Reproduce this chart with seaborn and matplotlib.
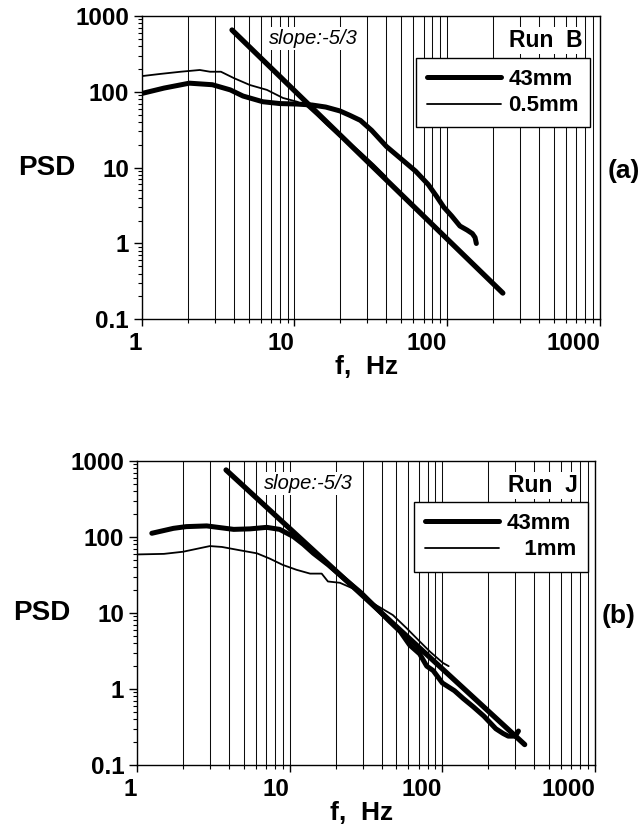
import numpy as np
import pandas as pd
import matplotlib
matplotlib.use('Agg')
import matplotlib.pyplot as plt
import seaborn as sns

# panel (a), Run B
a_slope_f = [3.9, 231]
a_slope_psd = [653, 0.222]
a_43_f = [1.0, 1.4, 2.05, 2.9, 3.8, 4.6, 6.2, 8.0, 10.3, 13, 16, 19.8, 23, 27,
          32, 40, 50, 62, 75, 85, 95, 107, 121, 135, 146, 152, 155]
a_43_psd = [95, 112, 130, 124, 106, 88, 74, 70, 69, 67, 63, 56, 49, 42,
            31, 19, 13, 9, 6, 4.2, 3.0, 2.3, 1.7, 1.5, 1.35, 1.2, 1.0]
a_05_f = [1.0, 1.32, 1.8, 2.4, 2.8, 3.3, 4.0, 5.1, 6.6, 8.4, 10.4, 12.1, 14,
          16.3, 19.8, 23, 27, 33, 40]
a_05_psd = [161, 172, 184, 194, 184, 184, 152, 123, 106, 83, 74, 64, 49,
            36.5, 25.6, 21, 16, 11, 7.5]

# panel (b), Run J
b_slope_f = [3.83, 346]
b_slope_psd = [762, 0.186]
b_43_f = [1.25, 1.73, 2.1, 2.86, 4.3, 5.5, 7.07, 8.6, 10.6, 12.3, 14.3, 17.9,
          22, 29.3, 38, 45, 53, 61, 71, 79, 87, 100, 120, 137, 160, 187, 224,
          250, 270, 300, 315]
b_43_psd = [112, 130, 137, 140, 126, 128, 134, 126, 101, 80, 61, 43,
            30, 18.5, 11, 7.8, 5.7, 3.8, 2.9, 2.0, 1.75, 1.2, 0.95, 0.75, 0.58,
            0.44, 0.3, 0.26, 0.24, 0.24, 0.28]
b_1_f = [1.0, 1.5, 2.0, 3.0, 3.6, 4.7, 6.1, 7.4, 9.0, 11.1, 13.6, 16.2, 17.8,
         21.3, 26, 30.2, 35.2, 47.4, 58.4, 71.3, 83, 101, 110]
b_1_psd = [59, 60, 64, 76, 74, 67, 61, 52, 43, 37, 33, 33, 26, 25, 21, 16.4,
           13.4, 9.4, 6.3, 4.2, 3.1, 2.2, 2.0]

x_ticks = [1, 10, 100, 1000]
x_labels = ['1', '10', '100', '1000']
y_ticks = [0.1, 1, 10, 100, 1000]
y_labels = ['0.1', '1', '10', '100', '1000']

sns.set_theme(style='ticks', rc={'axes.edgecolor': 'black',
                                 'xtick.color': 'black',
                                 'ytick.color': 'black',
                                 'text.color': 'black',
                                 'axes.labelcolor': 'black'})
plt.rcParams['font.family'] = ['Liberation Sans', 'DejaVu Sans']
plt.rcParams['font.weight'] = 'bold'
plt.rcParams['axes.labelweight'] = 'bold'


def panel(ax, slope, thick, thin, thin_label, run, tag, leg_anchor):
    ax.set_xscale('log')
    ax.set_yscale('log')
    ax.set_xlim(1, 1000)
    ax.set_ylim(0.1, 1000)

    sns.lineplot(x=thin[0], y=thin[1], ax=ax, color='black', lw=1.3,
                 sort=False, estimator=None, label=thin_label)
    sns.lineplot(x=thick[0], y=thick[1], ax=ax, color='black', lw=3.6,
                 sort=False, estimator=None, label='43mm')
    sns.lineplot(x=slope[0], y=slope[1], ax=ax, color='black', lw=3.8,
                 sort=False, estimator=None)

    ax.grid(True, which='both', axis='x', color='0.05', lw=0.75)
    ax.grid(False, axis='y', which='both')
    ax.set_axisbelow(True)
    for s in ax.spines.values():
        s.set_linewidth(1.0)
        s.set_visible(True)

    ax.set_xticks(x_ticks, x_labels, ha='right')
    ax.set_yticks(y_ticks, y_labels)
    ax.tick_params(axis='x', which='major', length=5, width=1, pad=4.0,
                   labelsize=17.5)
    ax.tick_params(axis='y', which='major', length=5.8, width=1, pad=3.4,
                   labelsize=17.5)
    ax.tick_params(which='minor', length=2.9, width=0.8)

    ax.set_xlabel('f,  Hz', fontsize=19, va='center')
    ax.xaxis.set_label_coords(0.49, -0.158)
    ax.set_ylabel('PSD', fontsize=20, rotation=0, ha='center', va='center')
    ax.yaxis.set_label_coords(-0.208, 0.5)

    ax.text(0.375, 0.925, 'slope:-5/3', transform=ax.transAxes, fontsize=14.5,
            style='italic', fontweight='normal', ha='center', va='center',
            bbox=dict(facecolor='white', edgecolor='none', pad=1.5))
    ax.text(0.962, 0.92, run, transform=ax.transAxes, fontsize=16.5,
            ha='right', va='center',
            bbox=dict(facecolor='white', edgecolor='none', pad=1.5))
    ax.text(1.052, 0.49, tag, transform=ax.transAxes, fontsize=19,
            ha='center', va='center')

    lines = {l.get_label(): l for l in ax.get_lines()}
    leg = ax.legend([lines['43mm'], lines[thin_label]], ['43mm', thin_label],
                    loc='upper right', bbox_to_anchor=leg_anchor,
                    borderaxespad=0, fancybox=False, framealpha=1,
                    edgecolor='black', fontsize=16, handlelength=3.3,
                    handletextpad=0.35, borderpad=0.5, labelspacing=0.25)
    leg.get_frame().set_linewidth(1.0)
    for t in leg.get_texts():
        t.set_fontweight('bold')


fig = plt.figure(figsize=(6.43, 8.32), dpi=100)
ax1 = fig.add_axes([0.2204, 0.6162, 0.7128, 0.3646])
ax2 = fig.add_axes([0.2131, 0.0805, 0.7123, 0.3654])

panel(ax1, (a_slope_f, a_slope_psd), (a_43_f, a_43_psd), (a_05_f, a_05_psd),
      '0.5mm', 'Run  B', '(a)', (0.978, 0.8625))
panel(ax2, (b_slope_f, b_slope_psd), (b_43_f, b_43_psd), (b_1_f, b_1_psd),
      '   1mm', 'Run  J', '(b)', (0.984, 0.866))

fig.savefig('out.png', dpi=100)
